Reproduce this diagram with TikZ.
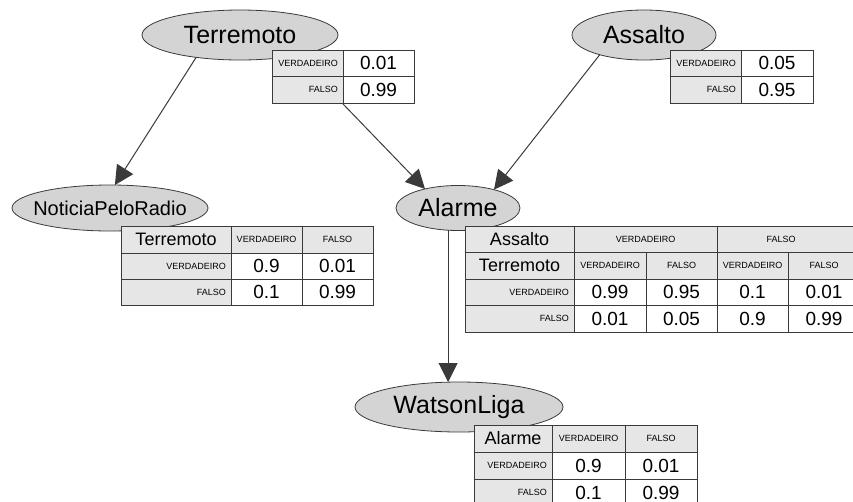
\documentclass[tikz,border=0pt]{standalone}
\usepackage{fontspec}
\setmainfont{Liberation Sans}
\usetikzlibrary{shapes.geometric,arrows.meta}
\definecolor{ellfill}{HTML}{D4D4D4}
\definecolor{cellgray}{HTML}{E6E6E6}
\definecolor{edgec}{HTML}{3A3A3A}
\newcommand\cptsmall{\fontsize{9}{10}\selectfont}
\newcommand\cptval{\fontsize{19}{22}\selectfont}
\newcommand\cptlab{\fontsize{18}{21}\selectfont}
\newcommand\bigname{\fontsize{25}{29}\selectfont}
\newcommand\midname{\fontsize{20}{24}\selectfont}
\tikzset{
  bnode/.style={ellipse, draw=edgec, line width=0.8pt, fill=ellfill, inner sep=0pt, outer sep=0pt},
  arr/.style={draw=edgec, line width=1pt, -{Triangle[length=19pt,width=19pt]}},
  cellbase/.style={rectangle, draw=edgec, line width=0.9pt, inner sep=0pt, outer sep=0pt, anchor=north west},
  gcell/.style={cellbase, fill=cellgray},
  wcell/.style={cellbase, fill=white, font=\cptval},
  hsmall/.style={gcell, font=\cptsmall},
  hbig/.style={gcell, font=\cptlab},
  small/.style={font=\cptsmall, inner sep=0pt},
}
\newcommand\tcell[7]{\node[#6, minimum width=#4pt, minimum height=#5pt] (#1) at (#2,#3) {#7};}
\newcommand\rcell[6]{\node[gcell, minimum width=#4pt, minimum height=#5pt] (#1) at (#2,#3) {};
  \node[small, anchor=east] (#1t) at ([xshift=-5pt]#1.east) {#6};}
\begin{document}
\begin{tikzpicture}[x=1pt,y=-1pt]
\useasboundingbox (0,0) rectangle (853,501);
\clip (0,0) rectangle (853,501);
% nodes
\node[bnode, minimum width=196pt, minimum height=50pt, font=\bigname] (terremoto) at (240,35) {\makebox[0pt]{Terremoto}};
\node[bnode, minimum width=144pt, minimum height=50pt, font=\bigname] (assalto) at (644,35) {\makebox[0pt]{Assalto}};
\node[bnode, minimum width=196pt, minimum height=46pt, font=\midname] (noticia) at (110,208) {\makebox[0pt]{NoticiaPeloRadio}};
\node[bnode, minimum width=124pt, minimum height=45pt, font=\bigname] (alarme) at (458,208) {\makebox[0pt]{Alarme}};
\node[bnode, minimum width=208pt, minimum height=50pt, font=\bigname] (watson) at (459,407) {\makebox[0pt]{WatsonLiga}};
% connectors
\draw[arr] (terremoto.207) -- (noticia.78);
\draw[arr] (terremoto.340) -- (alarme.150);
\draw[arr] (assalto.204) -- (alarme.27);
\draw[arr] (alarme.246) -- (alarme.246 |- watson.north);
% Terremoto prior
\rcell{t-r1}{272}{50}{71}{26.5}{VERDADEIRO}
\tcell{t-v1}{343}{50}{71}{26.5}{wcell}{0.01}
\rcell{t-r2}{272}{76.5}{71}{26.5}{FALSO}
\tcell{t-v2}{343}{76.5}{71}{26.5}{wcell}{0.99}
% Assalto prior
\rcell{a-r1}{670}{50}{71}{26.5}{VERDADEIRO}
\tcell{a-v1}{741}{50}{72}{26.5}{wcell}{0.05}
\rcell{a-r2}{670}{76.5}{71}{26.5}{FALSO}
\tcell{a-v2}{741}{76.5}{72}{26.5}{wcell}{0.95}
% NoticiaPeloRadio CPT
\tcell{n-h0}{121}{226}{110}{27}{hbig}{Terremoto}
\tcell{n-h1}{231}{226}{71}{27}{hsmall}{VERDADEIRO}
\tcell{n-h2}{302}{226}{71}{27}{hsmall}{FALSO}
\rcell{n-r1}{121}{253}{110}{26}{VERDADEIRO}
\tcell{n-v11}{231}{253}{71}{26}{wcell}{0.9}
\tcell{n-v12}{302}{253}{71}{26}{wcell}{0.01}
\rcell{n-r2}{121}{279}{110}{26}{FALSO}
\tcell{n-v21}{231}{279}{71}{26}{wcell}{0.1}
\tcell{n-v22}{302}{279}{71}{26}{wcell}{0.99}
% Alarme CPT
\tcell{al-h0}{465}{226}{109}{26.5}{hbig}{Assalto}
\tcell{al-hv}{574}{226}{143}{26.5}{hsmall}{VERDADEIRO}
\tcell{al-hf}{717}{226}{143}{26.5}{hsmall}{}
\node[small] (al-hft) at (781,239.25) {FALSO};
\tcell{al-g0}{465}{252.5}{109}{26.5}{hbig}{Terremoto}
\tcell{al-g1}{574}{252.5}{72}{26.5}{hsmall}{VERDADEIRO}
\tcell{al-g2}{646}{252.5}{71}{26.5}{hsmall}{FALSO}
\tcell{al-g3}{717}{252.5}{71}{26.5}{hsmall}{VERDADEIRO}
\tcell{al-g4}{788}{252.5}{72}{26.5}{hsmall}{FALSO}
\rcell{al-r1}{465}{279}{109}{26.5}{VERDADEIRO}
\tcell{al-v11}{574}{279}{72}{26.5}{wcell}{0.99}
\tcell{al-v12}{646}{279}{71}{26.5}{wcell}{0.95}
\tcell{al-v13}{717}{279}{71}{26.5}{wcell}{0.1}
\tcell{al-v14}{788}{279}{72}{26.5}{wcell}{0.01}
\rcell{al-r2}{465}{305.5}{109}{26.5}{FALSO}
\tcell{al-v21}{574}{305.5}{72}{26.5}{wcell}{0.01}
\tcell{al-v22}{646}{305.5}{71}{26.5}{wcell}{0.05}
\tcell{al-v23}{717}{305.5}{71}{26.5}{wcell}{0.9}
\tcell{al-v24}{788}{305.5}{72}{26.5}{wcell}{0.99}
% WatsonLiga CPT
\tcell{w-h0}{474}{425}{78}{27}{hbig}{Alarme}
\tcell{w-h1}{552}{425}{73}{27}{hsmall}{VERDADEIRO}
\tcell{w-h2}{625}{425}{72}{27}{hsmall}{FALSO}
\rcell{w-r1}{474}{452}{78}{27}{VERDADEIRO}
\tcell{w-v11}{552}{452}{73}{27}{wcell}{0.9}
\tcell{w-v12}{625}{452}{72}{27}{wcell}{0.01}
\rcell{w-r2}{474}{479}{78}{27}{FALSO}
\tcell{w-v21}{552}{479}{73}{27}{wcell}{0.1}
\tcell{w-v22}{625}{479}{72}{27}{wcell}{0.99}
\end{tikzpicture}
\end{document}
